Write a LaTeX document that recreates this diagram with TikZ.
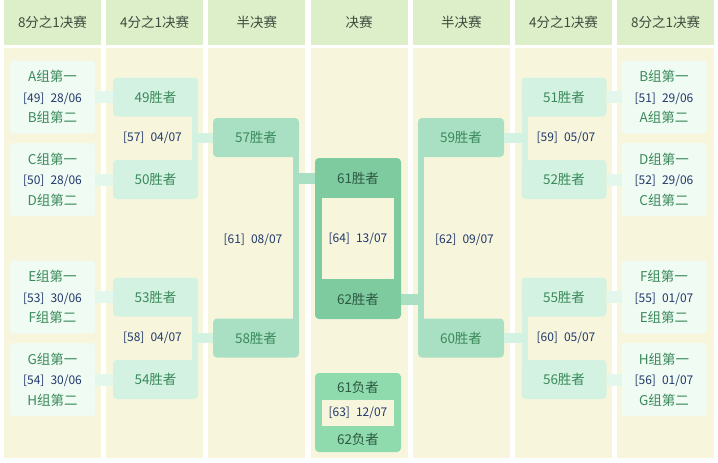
\documentclass[tikz,border=0pt]{standalone}
\usepackage{fontspec}
\setmainfont{Noto Sans CJK SC}
\usetikzlibrary{positioning}
\definecolor{headfill}{HTML}{DCEFC8}
\definecolor{lanefill}{HTML}{F7F6DC}
\definecolor{groupfill}{HTML}{F0FBF4}
\definecolor{groupline}{HTML}{E4F7EC}
\definecolor{quarterfill}{HTML}{D3F2E2}
\definecolor{semifill}{HTML}{A9DFC3}
\definecolor{finalfill}{HTML}{7ECBA0}
\definecolor{thirdfill}{HTML}{8FDBAE}
\definecolor{headtext}{HTML}{3E4A3E}
\definecolor{teamtext}{HTML}{3A8A5A}
\definecolor{datetext}{HTML}{22396B}
\definecolor{finaltext}{HTML}{2D5A42}
\newcommand{\matchday}[2]{{\fontsize{12}{20.5}\selectfont\color{datetext}[#1]\hspace{0.5em}#2}}
\tikzset{
    head/.style={fill=headfill,minimum width=97pt,minimum height=45pt,inner sep=0pt,outer sep=0pt,text=headtext,font=\fontsize{13.5}{16}\selectfont},
    lane/.style={fill=lanefill,minimum width=97pt,minimum height=410pt,inner sep=0pt,outer sep=0pt},
    group/.style={fill=groupfill,rounded corners=3pt,minimum width=85pt,minimum height=73pt,inner sep=0pt,outer sep=0pt,align=center,text=teamtext,font=\fontsize{13.5}{20.5}\selectfont},
    quarter/.style={fill=quarterfill,rounded corners=4pt,minimum width=85pt,minimum height=39pt,inner sep=0pt,outer sep=0pt,text=teamtext,font=\fontsize{13.5}{16}\selectfont},
    semi/.style={fill=semifill,rounded corners=4pt,minimum width=86pt,minimum height=39pt,inner sep=0pt,outer sep=0pt,text=teamtext,font=\fontsize{13.5}{16}\selectfont},
    finalbox/.style={rounded corners=4pt,minimum width=86pt,inner sep=0pt,outer sep=0pt},
    inner/.style={fill=lanefill,minimum width=72pt,inner sep=0pt,outer sep=0pt},
    team/.style={text=finaltext,font=\fontsize{13.5}{16}\selectfont},
    date/.style={text=datetext,font=\fontsize{12}{14}\selectfont},
    group link/.style={draw=groupline,line width=12pt},
    quarter link/.style={draw=quarterfill,line width=10pt},
    semi link/.style={draw=semifill,line width=11pt}
}

\begin{document}
\begin{tikzpicture}[x=1pt,y=-1pt]
    \useasboundingbox (0,0) rectangle (718,463);

    % columns
    \node[head] (head 1) at (52.5,22.5)      {8分之1决赛};
    \node[head] (head 2) [right=5.2pt of head 1] {4分之1决赛};
    \node[head] (head 3) [right=5.2pt of head 2] {半决赛};
    \node[head] (head 4) [right=5.2pt of head 3] {决赛};
    \node[head] (head 5) [right=5.2pt of head 4] {半决赛};
    \node[head] (head 6) [right=5.2pt of head 5] {4分之1决赛};
    \node[head] (head 7) [right=5.2pt of head 6] {8分之1决赛};

    \node[lane] (lane 1) [below=3pt of head 1] {};
    \node[lane] (lane 2) [below=3pt of head 2] {};
    \node[lane] (lane 3) [below=3pt of head 3] {};
    \node[lane] (lane 4) [below=3pt of head 4] {};
    \node[lane] (lane 5) [below=3pt of head 5] {};
    \node[lane] (lane 6) [below=3pt of head 6] {};
    \node[lane] (lane 7) [below=3pt of head 7] {};

    % round of 16
    \node[group] (grp 49) at (52.5,97)    {A组第一\\\matchday{49}{28/06}\\B组第二};
    \node[group] (grp 50) at (52.5,179.5) {C组第一\\\matchday{50}{28/06}\\D组第二};
    \node[group] (grp 53) at (52.5,297)   {E组第一\\\matchday{53}{30/06}\\F组第二};
    \node[group] (grp 54) at (52.5,379.5) {G组第一\\\matchday{54}{30/06}\\H组第二};
    \node[group] (grp 51) at (664,97)     {B组第一\\\matchday{51}{29/06}\\A组第二};
    \node[group] (grp 52) at (664,179.5)  {D组第一\\\matchday{52}{29/06}\\C组第二};
    \node[group] (grp 55) at (664,297)    {F组第一\\\matchday{55}{01/07}\\E组第二};
    \node[group] (grp 56) at (664,379.5)  {H组第一\\\matchday{56}{01/07}\\G组第二};

    % quarter finals
    \node[quarter] (win 49) [right=18pt of grp 49] {49胜者};
    \node[quarter] (win 50) [right=18pt of grp 50] {50胜者};
    \node[quarter] (win 53) [right=18pt of grp 53] {53胜者};
    \node[quarter] (win 54) [right=18pt of grp 54] {54胜者};
    \node[quarter] (win 51) [left=15pt of grp 51]  {51胜者};
    \node[quarter] (win 52) [left=15pt of grp 52]  {52胜者};
    \node[quarter] (win 55) [left=15pt of grp 55]  {55胜者};
    \node[quarter] (win 56) [left=15pt of grp 56]  {56胜者};

    \node[date] (m57) at (152.5,138) {[57]\hspace{0.5em}04/07};
    \node[date] (m58) at (152.5,338) {[58]\hspace{0.5em}04/07};
    \node[date] (m59) at (566,138)   {[59]\hspace{0.5em}05/07};
    \node[date] (m60) at (566,338)   {[60]\hspace{0.5em}05/07};

    % semi finals
    \node[semi] (win 57) at (256,137.5) {57胜者};
    \node[semi] (win 58) at (256,338)   {58胜者};
    \node[semi] (win 59) at (461,137.5) {59胜者};
    \node[semi] (win 60) at (461,338)   {60胜者};

    \node[date] (m61) at (253,240)   {[61]\hspace{0.5em}08/07};
    \node[date] (m62) at (464.5,240) {[62]\hspace{0.5em}09/07};

    % final and third place
    \node[finalbox,fill=finalfill,minimum height=161pt] (final) at (358,238.5) {};
    \node[inner,minimum height=81pt] (final inner) at (358,238.5) {};
    \node[team] (win 61) at (358,178)   {61胜者};
    \node[team] (win 62) at (358,299.5) {62胜者};
    \node[date] (m64) at (358,239) {[64]\hspace{0.5em}13/07};

    \node[finalbox,fill=thirdfill,minimum height=79pt] (third) at (358,412.5) {};
    \node[inner,minimum height=26pt] (third inner) at (358,413) {};
    \node[team] (lose 61) at (358,387.5) {61负者};
    \node[team] (lose 62) at (358,439)   {62负者};
    \node[date] (m63) at (358,413) {[63]\hspace{0.5em}12/07};

    % links
    \draw[group link] (grp 49) -- (win 49);
    \draw[group link] (grp 50) -- (win 50);
    \draw[group link] (grp 53) -- (win 53);
    \draw[group link] (grp 54) -- (win 54);
    \draw[group link] (grp 51) -- (win 51);
    \draw[group link] (grp 52) -- (win 52);
    \draw[group link] (grp 55) -- (win 55);
    \draw[group link] (grp 56) -- (win 56);

    \draw[quarter link,line width=6pt] ([xshift=-3pt,yshift=4pt]win 49.south east) -- ([xshift=-3pt,yshift=-4pt]win 50.north east);
    \draw[quarter link,line width=6pt] ([xshift=-3pt,yshift=4pt]win 53.south east) -- ([xshift=-3pt,yshift=-4pt]win 54.north east);
    \draw[quarter link,line width=6pt] ([xshift=3pt,yshift=4pt]win 51.south west) -- ([xshift=3pt,yshift=-4pt]win 52.north west);
    \draw[quarter link,line width=6pt] ([xshift=3pt,yshift=4pt]win 55.south west) -- ([xshift=3pt,yshift=-4pt]win 56.north west);
    \draw[quarter link] (win 57.west) -- (win 57.west -| win 49.east);
    \draw[quarter link] (win 58.west) -- (win 58.west -| win 53.east);
    \draw[quarter link] (win 59.east) -- (win 59.east -| win 51.west);
    \draw[quarter link] (win 60.east) -- (win 60.east -| win 55.west);

    \draw[semi link,line width=6pt] ([xshift=-3pt,yshift=4pt]win 57.south east) -- ([xshift=-3pt,yshift=-4pt]win 58.north east);
    \draw[semi link,line width=6pt] ([xshift=3pt,yshift=4pt]win 59.south west) -- ([xshift=3pt,yshift=-4pt]win 60.north west);
    \draw[semi link] (win 57.east |- win 61) -- (final.west |- win 61);
    \draw[semi link] (final.east |- win 62) -- (win 59.west |- win 62);

\end{tikzpicture}
\end{document}
